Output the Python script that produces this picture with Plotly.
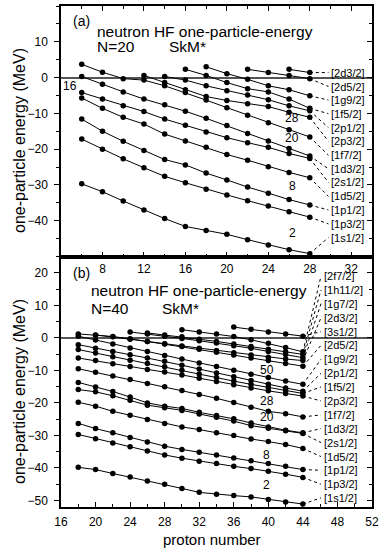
import plotly.graph_objects as go

FONT = "Liberation Sans, Arial, sans-serif"

# ---------------- panel (a): N=20 ----------------
a_1s1 = [-29.7, -31.9, -34.5, -37.0, -39.4, -41.6, -42.7, -43.8, -45.3, -46.8, -48.1, -49.2]
a_1p3 = [-17.2, -20.0, -22.7, -25.2, -27.6, -29.4, -31.2, -32.8, -34.4, -35.9, -37.5, -39.0]
a_1p1 = [-11.6, -15.0, -17.8, -20.4, -22.9, -24.4, -26.7, -28.6, -30.6, -32.3, -34.1, -35.6]
a_1d5 = [-5.7, -8.6, -11.1, -13.0, -15.8, -17.7, -19.5, -21.5, -23.1, -24.9, -26.5, -28.0]
a_2s1 = [-4.2, -6.0, -7.9, -9.5, -11.6, -13.3, -15.2, -16.8, -18.2, -19.5, -21.2, -22.6]
a_1d3 = [0.3, -1.9, -4.0, -6.0, -7.6, -9.4, -11.4, -13.4, -15.6, -17.7, -19.8, -21.9]
a_1f7 = [3.7, 1.5, -0.3, -0.7, -2.3, -4.2, -6.3, -8.4, -10.5, -12.6, -14.6, -16.6]
a_2p3 = [0.6, -1.4, -3.4, -5.3, -6.4, -7.3, -8.1, -9.7, -11.1]      # from Z=12
a_2p1 = [0.3, -0.7, -2.3, -3.7, -4.9, -6.2, -7.9, -9.3]             # from Z=14
a_1f5 = [2.3, 0.6, -1.4, -3.1, -4.0, -6.0, -8.6]                    # from Z=16
a_1g9 = [3.0, 1.1, -0.5, -2.3, -3.4, -5.1]                          # from Z=18
a_2d5 = [2.3, 1.4, 0.6, -0.3]                                       # from Z=22
a_2d3 = [2.3, 1.4]                                                  # from Z=26

a_series = [  # (label, first proton number, values)
    ("[2d3/2]", 26, a_2d3), ("[2d5/2]", 22, a_2d5), ("[1g9/2]", 18, a_1g9),
    ("[1f5/2]", 16, a_1f5), ("[2p1/2]", 14, a_2p1), ("[2p3/2]", 12, a_2p3),
    ("[1f7/2]", 6, a_1f7), ("[1d3/2]", 6, a_1d3), ("[2s1/2]", 6, a_2s1),
    ("[1d5/2]", 6, a_1d5), ("[1p1/2]", 6, a_1p1), ("[1p3/2]", 6, a_1p3),
    ("[1s1/2]", 6, a_1s1),
]
a_label_y = [1.4, -2.5, -6.3, -10.1, -14.0, -17.8, -21.7, -25.5, -29.3, -33.2, -37.0, -40.9, -44.7]
a_magic = ["16", "28", "20", "8", "2"]
a_magic_x = [4.85, 26.3, 26.3, 26.3, 26.3]
a_magic_y = [-2.3, -11.2, -16.9, -30.2, -43.3]

# ---------------- panel (b): N=40 ----------------
b_1s1 = [-39.8, -40.5, -41.7, -42.8, -44.0, -45.0, -46.3, -47.5, -48.1, -48.5, -48.9, -49.7, -50.5, -51.1]
b_1p3 = [-29.7, -31.0, -32.3, -33.5, -34.8, -36.0, -37.0, -37.9, -38.6, -39.5, -40.2, -41.0, -41.9, -42.9]
b_1p1 = [-26.3, -27.9, -29.2, -30.6, -32.0, -33.3, -34.3, -35.2, -36.0, -36.9, -37.8, -38.6, -39.5, -40.5]
b_1d5 = [-19.8, -21.0, -22.6, -23.8, -25.1, -26.3, -27.4, -28.2, -29.2, -30.0, -31.1, -31.9, -32.8, -34.0]
b_2s1 = [-15.9, -16.6, -17.8, -19.2, -20.7, -21.5, -22.3, -23.4, -24.4, -25.6, -27.0, -27.8, -28.6, -29.4]
b_1d3 = [-13.7, -15.1, -16.5, -18.2, -20.0, -21.0, -21.7, -22.9, -23.9, -24.9, -26.2, -27.4, -28.4, -29.2]
b_1f7 = [-9.5, -10.6, -11.7, -12.8, -14.0, -15.0, -16.2, -17.4, -18.6, -19.9, -21.3, -22.6, -23.3, -24.3]
b_2p3 = [-6.2, -7.0, -8.0, -8.8, -9.7, -10.5, -11.4, -12.4, -13.4, -14.4, -15.4, -16.3, -17.1, -17.9]
b_1f5 = [-3.6, -4.7, -5.8, -6.9, -7.9, -8.9, -10.0, -11.1, -12.2, -13.3, -14.3, -15.3, -16.2, -17.1]
b_2p1 = [-2.1, -3.2, -4.2, -5.2, -6.2, -7.2, -8.4, -9.6, -10.8, -12.0, -13.1, -14.3, -15.4, -16.4]
b_1g9 = [0.5, -0.7, -1.9, -3.1, -4.2, -5.4, -6.5, -7.7, -8.8, -10.0, -11.2, -12.2, -13.3, -14.3]
b_2d5 = [1.2, 0.8, 0.4, -0.3, -1.1, -1.9, -2.7, -3.5, -4.4, -5.3, -6.2, -7.0, -7.9, -8.7]
b_2d3 = [0.9, 0.3, -0.4, -1.1, -1.8, -2.5, -3.2, -3.9, -4.6, -5.3, -6.0, -6.5, -7.0]   # from Z=20
b_1g7 = [1.8, 1.2, 0.5, -0.2, -0.9, -1.6, -2.4, -3.2, -4.2, -5.1, -6.1]               # from Z=24
b_1h11 = [1.5, 0.9, 0.3, -0.4, -1.1, -1.9, -2.7, -3.5, -4.3, -5.1]                    # from Z=26
b_2f7 = [2.5, 1.8, 1.2, 0.4, -0.6, -1.7, -3.0, -4.3]                                  # from Z=30
b_3s1 = [3.3, 2.6, 1.8, 1.2, 0.5]                                                     # from Z=36

b_series = [
    ("[2f7/2]", 30, b_2f7), ("[1h11/2]", 26, b_1h11), ("[1g7/2]", 24, b_1g7),
    ("[2d3/2]", 20, b_2d3), ("[3s1/2]", 36, b_3s1), ("[2d5/2]", 18, b_2d5),
    ("[1g9/2]", 18, b_1g9), ("[2p1/2]", 18, b_2p1), ("[1f5/2]", 18, b_1f5),
    ("[2p3/2]", 18, b_2p3), ("[1f7/2]", 18, b_1f7), ("[1d3/2]", 18, b_1d3),
    ("[2s1/2]", 18, b_2s1), ("[1d5/2]", 18, b_1d5), ("[1p1/2]", 18, b_1p1),
    ("[1p3/2]", 18, b_1p3), ("[1s1/2]", 18, b_1s1),
]
b_label_y = [19.0, 14.7, 10.5, 6.2, 1.9, -2.3, -6.6, -10.9, -15.1, -19.4, -23.7,
             -27.9, -32.2, -36.5, -40.7, -45.0, -49.2]
b_magic = ["50", "28", "20", "8", "2"]
b_magic_x = [39.8, 39.8, 39.8, 39.8, 39.8]
b_magic_y = [-10.0, -19.5, -24.3, -35.9, -45.1]

fig = go.Figure()
annotations = []


def add_panel(series, label_y, label_x, conn_x, xa, ya, magic, mx, my):
    cx, cy = [], []
    for (lab, z0, vals), ly in zip(series, label_y):
        xs = [z0 + 2 * i for i in range(len(vals))]
        fig.add_trace(go.Scatter(
            x=xs, y=vals, mode="lines+markers", xaxis=xa, yaxis=ya,
            line=dict(color="black", width=1),
            marker=dict(color="black", size=5.5), showlegend=False,
            hoverinfo="skip"))
        cx += [xs[-1], conn_x, None]
        cy += [vals[-1], ly, None]
        annotations.append(dict(x=label_x, y=ly, xref=xa, yref=ya, text=lab,
                                showarrow=False, xanchor="left", yanchor="middle",
                                font=dict(family=FONT, size=11, color="black")))
    fig.add_trace(go.Scatter(x=cx, y=cy, mode="lines", xaxis=xa, yaxis=ya,
                             line=dict(color="black", width=1, dash="dot"),
                             showlegend=False, hoverinfo="skip"))
    for t, x, y in zip(magic, mx, my):
        annotations.append(dict(x=x, y=y, xref=xa, yref=ya, text=t, showarrow=False,
                                xanchor="center", yanchor="middle",
                                font=dict(family=FONT, size=12, color="black")))


add_panel(a_series, a_label_y, 29.85, 29.8, "x", "y", a_magic, a_magic_x, a_magic_y)
add_panel(b_series, b_label_y, 46.2, 46.1, "x2", "y2", b_magic, b_magic_x, b_magic_y)

# invisible traces so the right-hand tick axes are drawn
fig.add_trace(go.Scatter(x=[10], y=[0], xaxis="x", yaxis="y3", mode="markers",
                         marker=dict(opacity=0), showlegend=False, hoverinfo="skip"))
fig.add_trace(go.Scatter(x=[30], y=[0], xaxis="x2", yaxis="y4", mode="markers",
                         marker=dict(opacity=0), showlegend=False, hoverinfo="skip"))

# panel texts
for xa, ya, tag, n, x0, xs, yt, yn in [("x", "y", "(a)", "N=20", 7.3, 14.25, 13.0, 8.8),
                                       ("x2", "y2", "(b)", "N=40", 19.25, 27.5, 14.4, 8.9)]:
    tx = 4.95 if tag == "(a)" else 17.1
    ty = 15.7 if tag == "(a)" else 20.0
    annotations.append(dict(x=tx, y=ty, xref=xa, yref=ya, text=tag, showarrow=False,
                            xanchor="left", yanchor="middle",
                            font=dict(family=FONT, size=14, color="black")))
    annotations.append(dict(x=x0, y=yt, xref=xa, yref=ya, text="neutron HF one-particle-energy",
                            showarrow=False, xanchor="left", yanchor="middle",
                            font=dict(family=FONT, size=15.5, color="black")))
    annotations.append(dict(x=x0, y=yn, xref=xa, yref=ya, text=n, showarrow=False,
                            xanchor="left", yanchor="middle",
                            font=dict(family=FONT, size=15.5, color="black")))
    annotations.append(dict(x=xs, y=yn, xref=xa, yref=ya, text="SkM*", showarrow=False,
                            xanchor="left", yanchor="middle",
                            font=dict(family=FONT, size=15.5, color="black")))

# axis titles
for yp in [0.7316, 0.2306]:
    annotations.append(dict(x=-0.1333, y=yp, xref="paper", yref="paper",
                            text="one-particle energy (MeV)", textangle=-90,
                            showarrow=False, xanchor="center", yanchor="middle",
                            font=dict(family=FONT, size=16, color="black")))
annotations.append(dict(x=0.486, y=-0.0656, xref="paper", yref="paper",
                        text="proton number", showarrow=False, xanchor="center",
                        yanchor="middle", font=dict(family=FONT, size=15, color="black")))

tickfont = dict(family=FONT, size=12, color="black")
common_x = dict(showline=True, linecolor="black", linewidth=1.5, showgrid=False,
                zeroline=False, ticks="inside", ticklen=5, tickcolor="black",
                tickwidth=1, tickfont=tickfont, tickmode="array")
common_y = dict(showline=True, linecolor="black", linewidth=1.5, showgrid=False,
                zeroline=True, zerolinecolor="#555", zerolinewidth=1.5,
                ticks="outside", ticklen=5, tickcolor="black", tickwidth=1,
                tickfont=tickfont, tickmode="array", mirror=True,
                ticklabelstandoff=4)
right_y = dict(showline=False, showgrid=False, zeroline=False, ticks="inside",
               ticklen=5, tickcolor="black", tickwidth=1, showticklabels=False,
               tickmode="array", side="right")

fig.update_layout(
    width=383, height=556,
    margin=dict(l=61, r=7, t=4, b=49),
    paper_bgcolor="white", plot_bgcolor="white",
    xaxis=dict(common_x, domain=[0, 1], range=[4, 34], anchor="y",
               tickvals=[8, 12, 16, 20, 24, 28, 32], mirror="ticks",
               minor=dict(tickmode="linear", tick0=0, dtick=2, ticks="inside",
                          ticklen=3, tickcolor="black")),
    yaxis=dict(common_y, domain=[0.5, 1], range=[-50, 20], anchor="x",
               tickvals=[-40, -30, -20, -10, 0, 10],
               minor=dict(tickmode="linear", tick0=0, dtick=5, ticks="outside",
                          ticklen=3, tickcolor="black")),
    yaxis3=dict(right_y, overlaying="y", anchor="x", range=[-50, 20],
                tickvals=[-40, -30, -20, -10, 0, 10],
                minor=dict(tickmode="linear", tick0=0, dtick=5, ticks="inside",
                           ticklen=3, tickcolor="black")),
    xaxis2=dict(common_x, domain=[0, 1], range=[16, 52], anchor="y2",
                tickvals=[16, 20, 24, 28, 32, 36, 40, 44, 48, 52], mirror=True,
                ticklabelstandoff=3,
                minor=dict(tickmode="linear", tick0=0, dtick=2, ticks="inside",
                           ticklen=3, tickcolor="black")),
    yaxis2=dict(common_y, domain=[0, 0.5], range=[-52, 25], anchor="x2",
                tickvals=[-50, -40, -30, -20, -10, 0, 10, 20],
                minor=dict(tickmode="linear", tick0=0, dtick=5, ticks="outside",
                           ticklen=3, tickcolor="black")),
    yaxis4=dict(right_y, overlaying="y2", anchor="x2", range=[-52, 25],
                tickvals=[-50, -40, -30, -20, -10, 0, 10, 20],
                minor=dict(tickmode="linear", tick0=0, dtick=5, ticks="inside",
                           ticklen=3, tickcolor="black")),
    annotations=annotations,
)

fig.write_html("out.html")
